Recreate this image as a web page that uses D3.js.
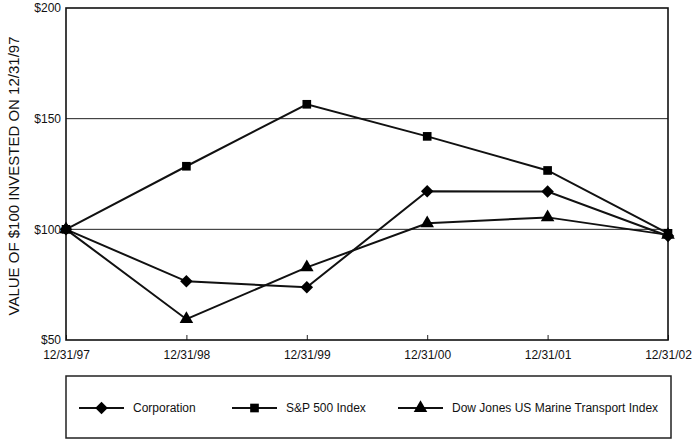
<!DOCTYPE html>
<html>
<head>
<meta charset="utf-8">
<script src="https://cdn.jsdelivr.net/npm/d3@7"></script>
<style>
  body { margin: 0; background: #fff; }
  text { font-family: "Liberation Sans", Arial, sans-serif; fill: #111; }
</style>
</head>
<body>
<div id="chart"></div>
<script>
// dates along the x axis
var dates = ["12/31/97", "12/31/98", "12/31/99", "12/31/00", "12/31/01", "12/31/02"];
var corporation = [100, 76.5, 73.8, 117.2, 117.1, 97];
var sp500 = [100, 128.5, 156.5, 142, 126.6, 98.2];
var dowMarine = [100, 59.4, 82.8, 102.7, 105.4, 97.5];
var yTicks = [50, 100, 150, 200];
var seriesNames = ["Corporation", "S&P 500 Index", "Dow Jones US Marine Transport Index"];

var width = 694, height = 440;
var margin = {top: 8, right: 26, bottom: 100, left: 66};
var plotW = width - margin.left - margin.right;
var plotH = height - margin.top - margin.bottom;

var svg = d3.select("#chart").append("svg")
    .attr("width", width)
    .attr("height", height);

var g = svg.append("g")
    .attr("transform", "translate(" + margin.left + "," + margin.top + ")");

var x = d3.scalePoint()
    .domain(dates)
    .range([0, plotW]);

var y = d3.scaleLinear()
    .domain([50, 200])
    .range([plotH, 0]);

// gridlines
g.selectAll(".grid")
    .data([100, 150])
    .enter().append("line")
    .attr("x1", 0).attr("x2", plotW)
    .attr("y1", function(d) { return y(d); })
    .attr("y2", function(d) { return y(d); })
    .attr("stroke", "#222")
    .attr("stroke-width", 1);

// y axis labels
var yAxis = d3.axisLeft(y)
    .tickValues(yTicks)
    .tickFormat(function(d) { return "$" + d; })
    .tickSize(0)
    .tickPadding(5);

g.append("g")
    .style("font-size", "12px")
    .call(yAxis)
    .call(function(s) { s.select(".domain").remove(); });

// x axis, ticks point up into the plot
var xAxis = d3.axisBottom(x)
    .tickSize(-5)
    .tickPadding(10);

g.append("g")
    .attr("transform", "translate(0," + plotH + ")")
    .style("font-size", "12px")
    .call(xAxis)
    .call(function(s) {
        s.select(".domain").remove();
        s.selectAll(".tick line").attr("stroke", "#222");
    });

// plot frame
g.append("rect")
    .attr("x", 0).attr("y", 0)
    .attr("width", plotW).attr("height", plotH)
    .attr("fill", "none")
    .attr("stroke", "#111")
    .attr("stroke-width", 1.6);

// y title
svg.append("text")
    .attr("transform", "translate(19," + (margin.top + plotH / 2 + 2) + ") rotate(-90)")
    .attr("text-anchor", "middle")
    .style("font-size", "15px")
    .text("VALUE OF $100 INVESTED ON 12/31/97");

var line = d3.line()
    .x(function(d, i) { return x(dates[i]); })
    .y(function(d) { return y(d); });

// diamond = square turned 45 degrees
var diamond = d3.symbol().type(d3.symbolSquare).size(78);
var square = d3.symbol().type(d3.symbolSquare).size(75);
var triangle = d3.symbol().type(d3.symbolTriangle).size(80);
var shapes = [diamond, square, triangle];
var rotations = [45, 0, 0];
var allSeries = [corporation, sp500, dowMarine];

allSeries.forEach(function(vals, k) {
    g.append("path")
        .datum(vals)
        .attr("fill", "none")
        .attr("stroke", "#111")
        .attr("stroke-width", 2)
        .attr("d", line);

    g.selectAll(".m" + k)
        .data(vals)
        .enter().append("path")
        .attr("class", "m" + k)
        .attr("transform", function(d, i) {
            return "translate(" + x(dates[i]) + "," + y(d) + ") rotate(" + rotations[k] + ")";
        })
        .attr("d", shapes[k]())
        .attr("fill", "#000");
});

// legend
var legend = svg.append("g");
legend.append("rect")
    .attr("x", 66).attr("y", 376)
    .attr("width", 605).attr("height", 62)
    .attr("fill", "none")
    .attr("stroke", "#222")
    .attr("stroke-width", 1.5);

var legendX = [79, 232, 398];
seriesNames.forEach(function(name, k) {
    var lg = legend.append("g")
        .attr("transform", "translate(" + legendX[k] + ",408)");
    lg.append("line")
        .attr("x1", 0).attr("x2", 45)
        .attr("stroke", "#111").attr("stroke-width", 2);
    lg.append("path")
        .attr("transform", "translate(22.5,0) rotate(" + rotations[k] + ")")
        .attr("d", shapes[k]())
        .attr("fill", "#000");
    lg.append("text")
        .attr("x", 54).attr("dy", "0.35em")
        .style("font-size", "12px")
        .text(name);
});
</script>
</body>
</html>
